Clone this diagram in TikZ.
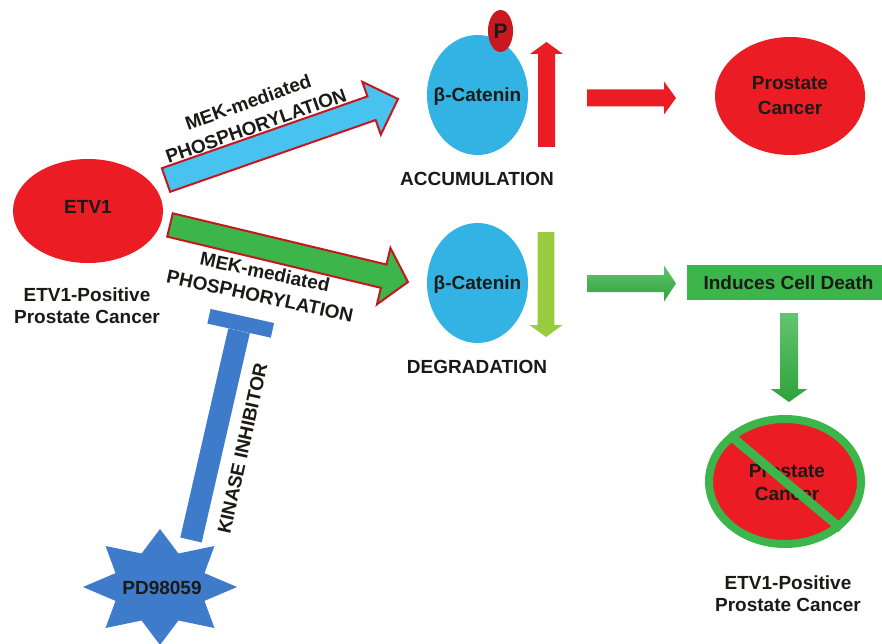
\documentclass[tikz,border=0pt]{standalone}
\usepackage{fontspec}
\setmainfont{Liberation Sans}
\usetikzlibrary{calc,shapes.geometric}
\definecolor{cred}{HTML}{EC1C24}
\definecolor{oline}{HTML}{C8161E}
\definecolor{cblue}{HTML}{33B3E3}
\definecolor{ablue}{HTML}{48C2EE}
\definecolor{cgreen}{HTML}{3CB54A}
\definecolor{dgreen}{HTML}{2EA23C}
\definecolor{lgreen}{HTML}{98CB3E}
\definecolor{tblue}{HTML}{3E7BCB}
\definecolor{txt}{HTML}{1C1A17}
\newcommand\fatarrow[6]{%
  \coordinate (fah) at ($(#3)!#6!(#2)$);
  \path[#1] ($(#2)!#4!90:(#3)$) -- ($(fah)!#4!-90:(#2)$) -- ($(fah)!#5!-90:(#2)$)
    -- (#3) -- ($(fah)!#5!90:(#2)$) -- ($(fah)!#4!90:(#2)$) -- ($(#2)!#4!-90:(#3)$) -- cycle;}
\tikzset{
  lbl/.style={font=\bfseries\fontsize{19}{22}\selectfont, text=txt, align=center, inner sep=0pt},
  redell/.style={ellipse, fill=cred, inner sep=0pt},
  cat/.style={ellipse, fill=cblue, minimum width=101pt, minimum height=120pt, inner sep=0pt},
  outarrow/.style={draw=oline, line width=2pt, line join=miter},
  plainred/.style={fill=cred},
  plaingreen/.style={top color=cgreen!80!white, bottom color=dgreen},
}
\begin{document}
\begin{tikzpicture}[x=1pt,y=-1pt]
\useasboundingbox (0,0) rectangle (882,644);
\fill[white] (0,0) rectangle (882,644);

% main nodes
\node[redell, minimum width=150pt, minimum height=104pt] (etv1) at (88,211) {};
\node[lbl] at (88,207) {ETV1};
\node[lbl] (etvlab) at (87,306) {ETV1-Positive\\Prostate Cancer};

\node[cat] (bcat1) at (477.5,95) {};
\node[lbl] at (477.5,97) {β-Catenin};
\node[ellipse, fill=cred!85!black, minimum width=25pt, minimum height=42pt, inner sep=0pt] (pho) at (500.5,31) {};
\node[lbl, font=\bfseries\fontsize{21}{22}\selectfont] at (pho) {P};
\node[lbl] (accum) at (477,179) {ACCUMULATION};

\node[redell, minimum width=150pt, minimum height=118pt] (pc1) at (790,96) {};
\node[lbl, font=\bfseries\fontsize{19}{25}\selectfont] at (pc1) {Prostate\\Cancer};

\node[cat] (bcat2) at (477.5,283) {};
\node[lbl] at (477.5,285) {β-Catenin};
\node[lbl] (degr) at (477,366.5) {DEGRADATION};

\node[rectangle, fill=cgreen, minimum width=197pt, minimum height=35pt, inner sep=0pt] (icd) at (785.5,282.5) {};
\node[lbl] at (788.5,283) {Induces Cell Death};

\node[ellipse, fill=cred, draw=cgreen, line width=8pt, minimum width=152pt, minimum height=125pt, inner sep=0pt] (noc) at (785,481.5) {};
\node[lbl, font=\bfseries\fontsize{19}{23}\selectfont] at (787,483) {Prostate\\Cancer};
\draw[cgreen, line width=9pt] (noc.140) -- (noc.-40);
\node[lbl] (etvlab2) at (788,594) {ETV1-Positive\\Prostate Cancer};

% arrow end points
\coordinate (bt) at (166,180);
\coordinate (bh) at (398,99);
\coordinate (gt) at (170,225);
\coordinate (gh) at (408,282);
\coordinate (ru0) at (546.5,147);
\coordinate (ru1) at (546.5,42);
\coordinate (rr0) at (587,98);
\coordinate (rr1) at (676,98);
\coordinate (lg0) at (546,232);
\coordinate (lg1) at (546,337);
\coordinate (gr0) at (587,283.5);
\coordinate (gr1) at (676,283.5);
\coordinate (gd0) at (789,313);
\coordinate (gd1) at (789,402);

\fatarrow{outarrow, fill=ablue}{bt}{bh}{12.5pt}{28pt}{28pt}
\fatarrow{outarrow, fill=cgreen}{gt}{gh}{12pt}{29pt}{25pt}
\fatarrow{plainred}{ru0}{ru1}{8.5pt}{16.5pt}{12pt}
\fatarrow{plainred}{rr0}{rr1}{8.5pt}{16.5pt}{12pt}
\fatarrow{fill=lgreen}{lg0}{lg1}{8.3pt}{16.5pt}{12pt}
\fatarrow{plaingreen}{gr0}{gr1}{8.5pt}{18pt}{12pt}
\fatarrow{plaingreen}{gd0}{gd1}{9pt}{18.3pt}{13pt}

\node[lbl, rotate=19.5] (bl1) at (248,102) {MEK-mediated};
\node[lbl, rotate=19.5] (bl2) at (256,126) {PHOSPHORYLATION};
\node[lbl, rotate=-12] (gl1) at (265,272) {MEK-mediated};
\node[lbl, rotate=-12] (gl2) at (260,296) {PHOSPHORYLATION};

% inhibitor
\node[star, star points=8, star point ratio=1.6, minimum size=154pt, inner sep=0pt, fill=tblue, yscale=0.753, transform shape] (pd) at (160,587) {};
\node[lbl] at (162,588) {PD98059};
\coordinate (tfoot) at (191,540);
\node[rectangle, fill=tblue, minimum width=65pt, minimum height=15pt, inner sep=0pt, rotate=-12.5] (tbar) at (240.7,323.3) {};
\draw[tblue, line width=22pt] (tbar.south) -- (tfoot);
\node[lbl, rotate=77.5] at (242.5,448.5) {KINASE INHIBITOR};
\end{tikzpicture}
\end{document}
